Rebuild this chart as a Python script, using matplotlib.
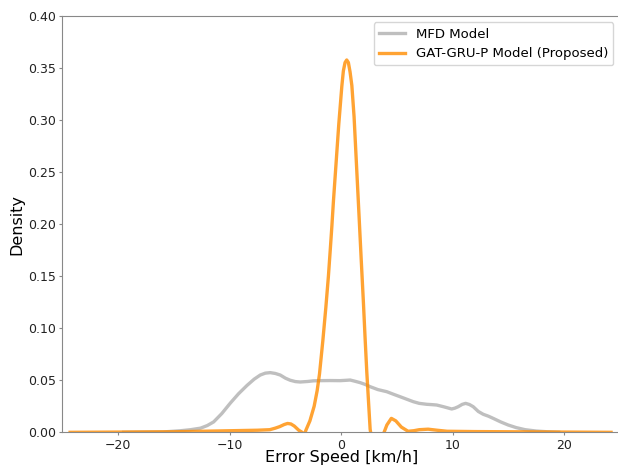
import numpy as np
import matplotlib
matplotlib.use("Agg")
import matplotlib.pyplot as plt

# density estimates of the speed error (km/h), read as (x, density) pairs
mfd_x = [-19.5, -16.0, -14.4, -13.5, -12.6, -12.0, -11.43, -10.7, -9.94, -9.2,
         -8.44, -7.8, -7.25, -6.8, -6.36, -5.9, -5.46, -5.0, -4.57, -4.1,
         -3.67, -3.0, -2.5, -1.88, -1.0, -0.09, 0.4, 0.81, 1.25, 1.7,
         2.15, 2.6, 3.3, 4.09, 4.7, 5.28, 5.9, 6.47, 7.0, 7.67,
         8.1, 8.57, 9.2, 9.91, 10.2, 10.5, 10.85, 11.16, 11.5, 11.84,
         12.3, 12.74, 13.2, 13.63, 14.3, 14.98, 15.7, 16.5, 17.5, 18.5, 19.5]
mfd_y = [0.0, 0.0003, 0.0015, 0.0025, 0.004, 0.0065, 0.010, 0.018, 0.028, 0.037,
         0.045, 0.051, 0.055, 0.0568, 0.0573, 0.0565, 0.055, 0.052, 0.050, 0.0487,
         0.0483, 0.0488, 0.0494, 0.0496, 0.0497, 0.0496, 0.0499, 0.0502, 0.049, 0.0477,
         0.046, 0.0438, 0.041, 0.039, 0.0365, 0.0342, 0.0317, 0.0294, 0.0278, 0.0269,
         0.0266, 0.0262, 0.0245, 0.0224, 0.0232, 0.0246, 0.0268, 0.0278, 0.0267, 0.0246,
         0.020, 0.0173, 0.0155, 0.0134, 0.0100, 0.0070, 0.0045, 0.0025, 0.0012, 0.0005, 0.0001]

gat_x = [-24.3, -15.0, -10.0, -7.5, -6.4, -5.9, -5.5, -5.1, -4.8, -4.5,
         -4.2, -3.8, -3.5, -3.35, -3.16, -2.8, -2.42, -2.15, -1.94, -1.64,
         -1.37, -1.14, -0.97, -0.83, -0.69, -0.45, -0.21, 0.06, 0.2, 0.35,
         0.5, 0.65, 0.8, 0.96, 1.16, 1.31, 1.46, 1.61, 1.79, 2.0,
         2.15, 2.3, 2.48, 2.6, 2.8, 3.2, 3.6, 3.85, 4.1, 4.5,
         4.9, 5.4, 6.0, 6.5, 7.0, 7.8, 8.6, 9.5, 12.0, 24.2]
gat_y = [0.0, 0.0005, 0.0015, 0.002, 0.0025, 0.004, 0.0055, 0.0075, 0.0085, 0.008,
         0.006, 0.002, 0.0, -0.004, 0.002, 0.011, 0.025, 0.040, 0.056, 0.088,
         0.120, 0.150, 0.176, 0.198, 0.222, 0.259, 0.296, 0.332, 0.347, 0.355,
         0.3575, 0.355, 0.346, 0.333, 0.303, 0.271, 0.239, 0.207, 0.168, 0.124,
         0.090, 0.058, 0.025, 0.003, -0.010, -0.015, -0.008, 0.0, 0.007, 0.0134,
         0.011, 0.005, 0.001, 0.0015, 0.0025, 0.003, 0.002, 0.001, 0.0007, 0.0]

fig = plt.figure(figsize=(6.18, 4.66), dpi=100)
ax = fig.add_axes([0.1008, 0.0723, 0.9024, 0.894])

ax.plot(mfd_x, mfd_y, color="gray", alpha=0.5, lw=2.4, label="MFD Model")
ax.plot(gat_x, gat_y, color="darkorange", alpha=0.8, lw=2.4,
        label="GAT-GRU-P Model (Proposed)")

ax.set_xlim(-25, 25)
ax.set_ylim(0, 0.40)
ax.set_xticks([-20, -10, 0, 10, 20])
ax.set_yticks(np.arange(0, 0.401, 0.05))
ax.yaxis.set_major_formatter(matplotlib.ticker.FormatStrFormatter("%.2f"))

for s in ax.spines.values():
    s.set_color("#888888")
ax.tick_params(colors="#888888", labelcolor="#222222", labelsize=9,
               length=2.5, pad=2)

ax.set_xlabel("Error Speed [km/h]", fontsize=11.5, labelpad=-1)
ax.set_ylabel("Density", fontsize=11.5, labelpad=3)
ax.legend(loc="upper right", fontsize=9.5)

fig.savefig("out.png", dpi=100)
